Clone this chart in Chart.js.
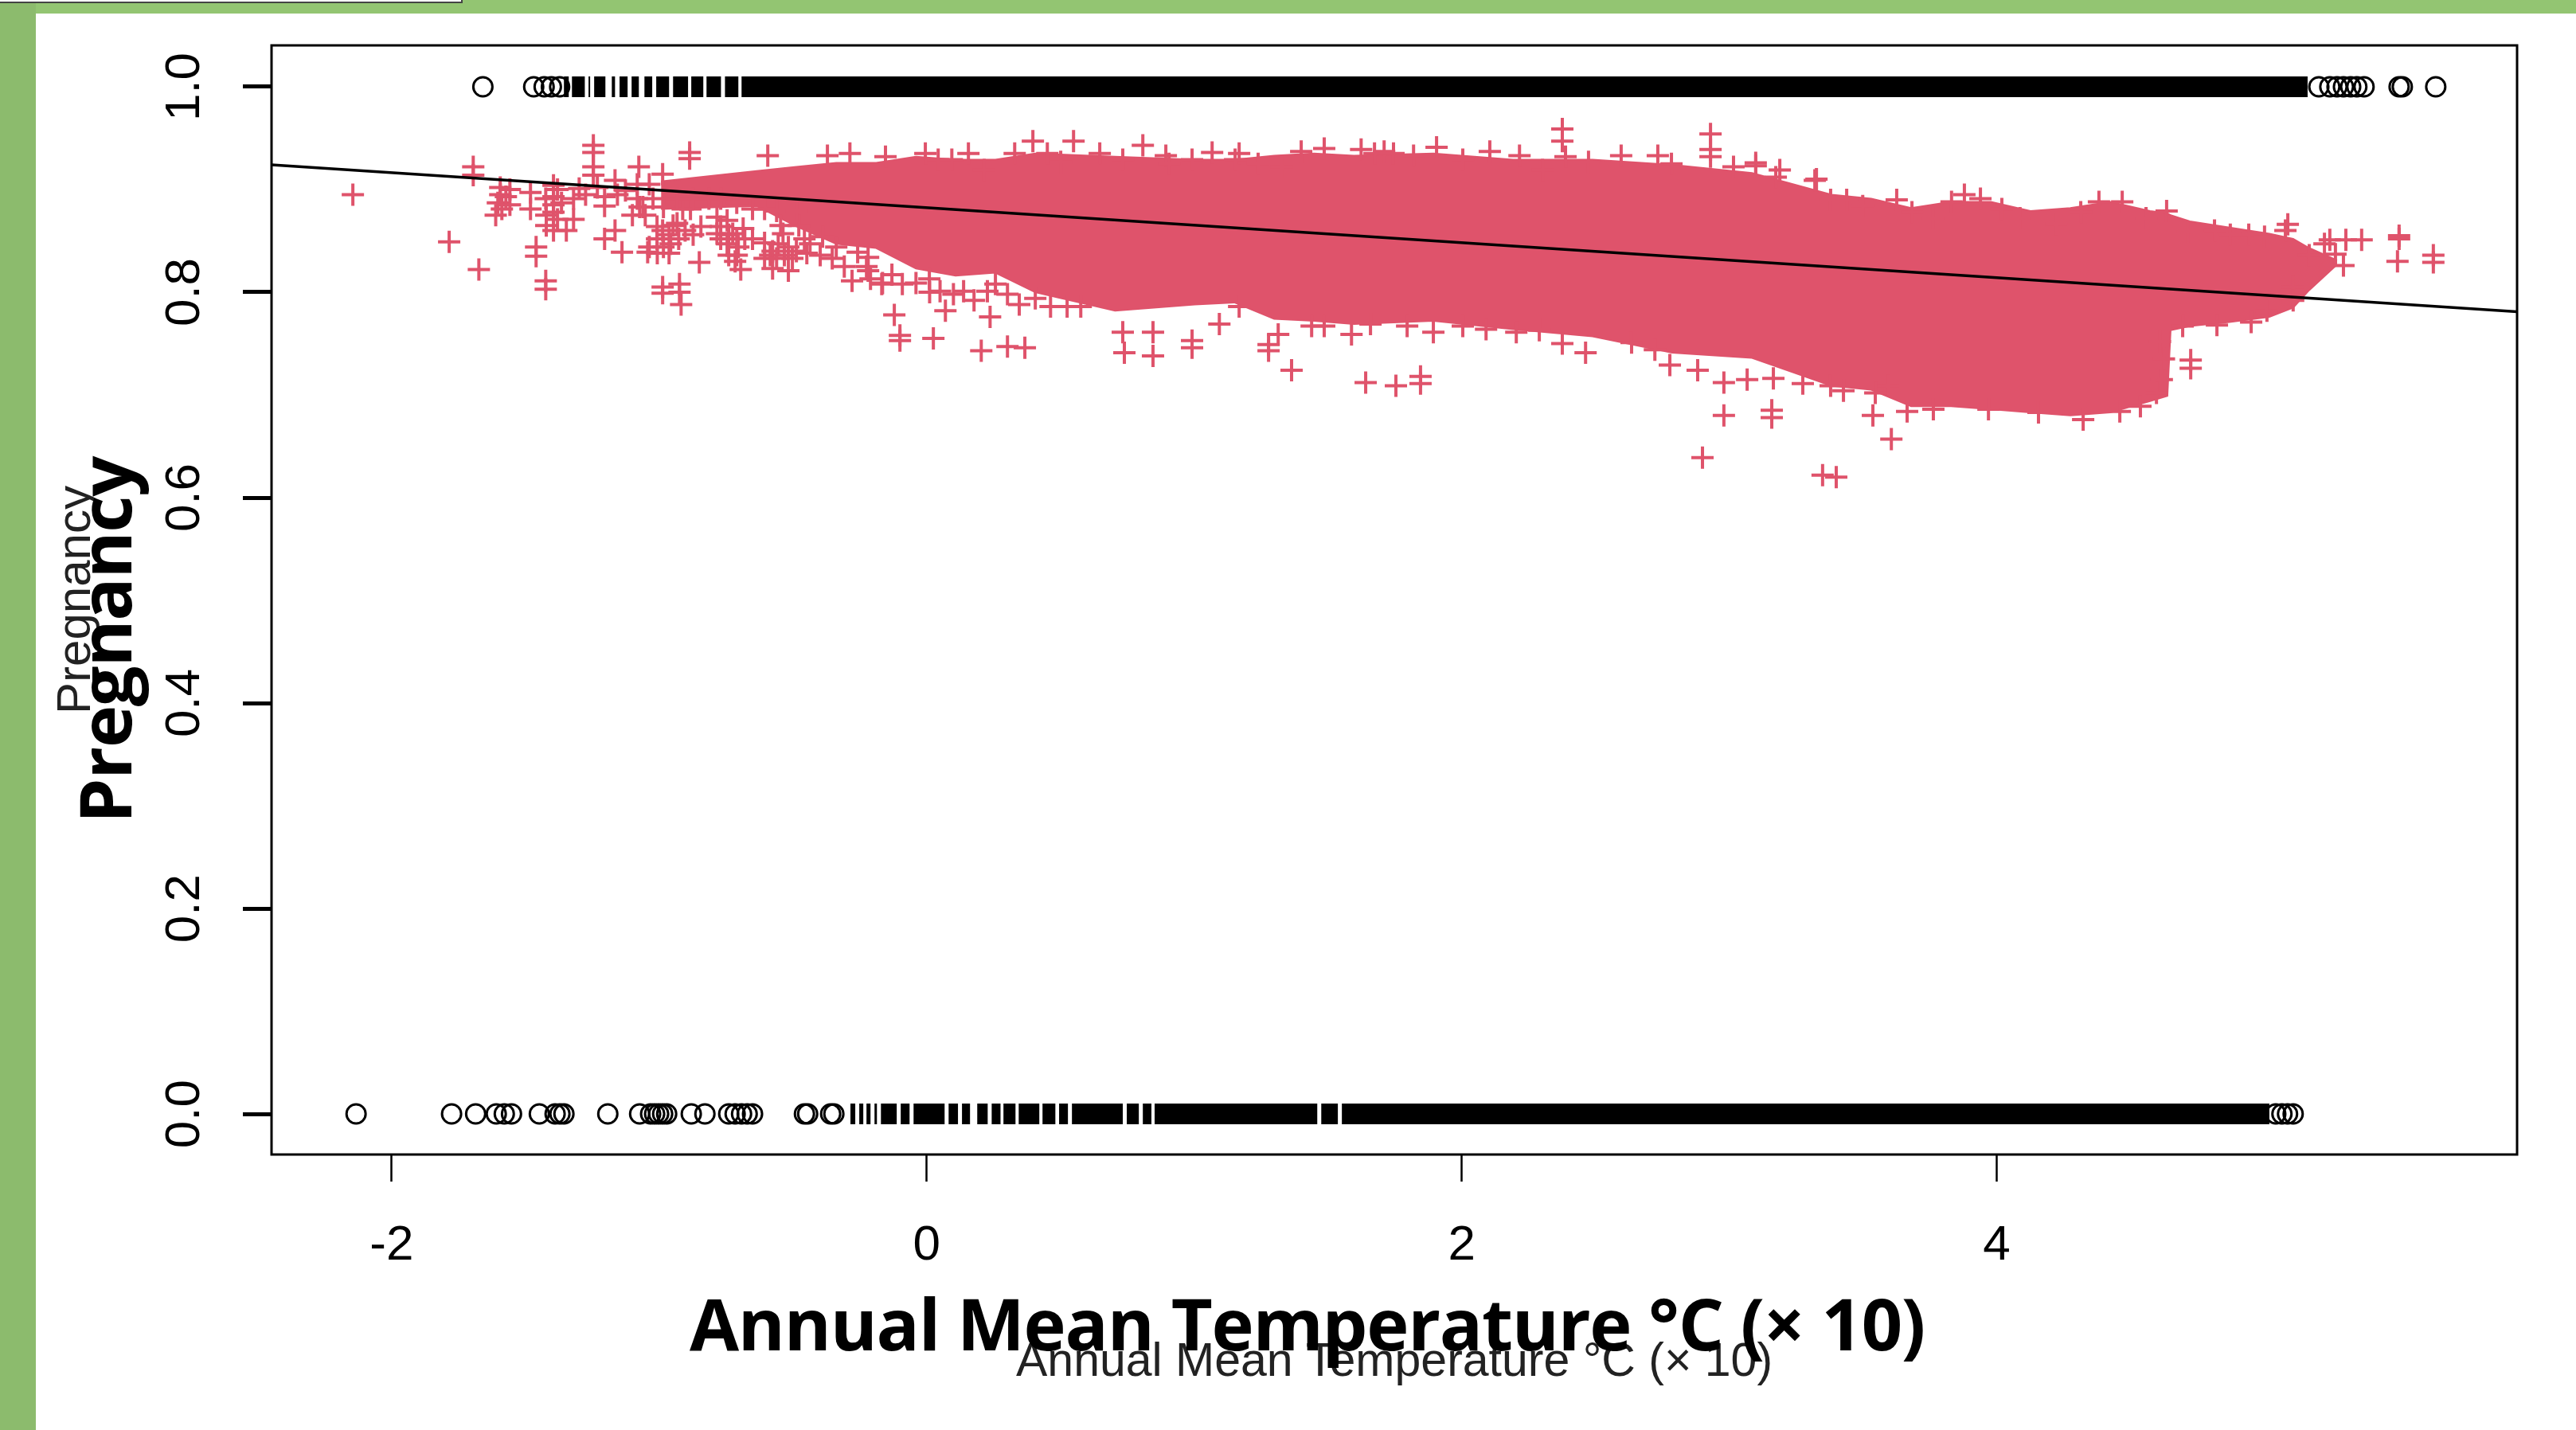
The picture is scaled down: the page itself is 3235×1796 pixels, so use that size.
<!DOCTYPE html>
<html>
<head>
<meta charset="utf-8">
<title>Pregnancy vs temperature</title>
<script src="https://cdn.jsdelivr.net/npm/chart.js@4"></script>
<style>
  html, body { margin: 0; padding: 0; background: #fff; }
  #page { position: relative; width: 3235px; height: 1796px; overflow: hidden; background: #fff; }
  #plot { position: absolute; left: 0; top: 0; }
  #barTop { position: absolute; left: 0; top: 0; width: 3235px; height: 17px; background: #93c572; }
  #barLeft { position: absolute; left: 0; top: 0; width: 45px; height: 1796px; background: #8cbb6d; }
  #tab { position: absolute; left: 0; top: 0; width: 579px; height: 2px; background: #fff; border-right: 2px solid #444; border-bottom: 2px solid #444; }
  .bold { position: absolute; font-family: "Open Sans", sans-serif; font-weight: 700; color: #000; white-space: nowrap; line-height: 1; letter-spacing: -1.25px; }
  #boldX { left: 866px; top: 1616px; font-size: 90px; }
  #boldY { left: 0; top: 0; font-size: 90px; transform-origin: 0 0; transform: translate(85px, 1034px) rotate(-90deg); }
</style>
</head>
<body>
<div id="page">
  <canvas id="plot" width="3235" height="1796"></canvas>
  <div id="barTop"></div>
  <div id="barLeft"></div>
  <div id="tab"></div>
  <div class="bold" id="boldX">Annual Mean Temperature °C (× 10)</div>
  <div class="bold" id="boldY">Pregnancy</div>
</div>
<script>
// axes
const xTicks = [-2, 0, 2, 4];
const yTicks = [0, 0.2, 0.4, 0.6, 0.8, 1];
const xTitle = "Annual Mean Temperature °C (× 10)";
const yTitle = "Pregnancy";

// fitted line, end to end of the plot box
const trendX = [-2.449, 5.945];
const trendY = [0.924, 0.781];

// open circles at 1.0 (sparse ends of the strip)
const onesX = [-1.659, -1.469, -1.430, -1.403, -1.372, 5.204, 5.245, 5.272, 5.296, 5.323, 5.346, 5.373, 5.504, 5.516, 5.641];
// solid runs of overlapped circles at 1.0
const onesRunStart = [-1.356, -1.326, -1.264, -1.243, -1.177, -1.148, -1.103, -1.055, -1.011, -0.948, -0.880, -0.823, -0.754, -0.692];
const onesRunEnd = [-1.338, -1.278, -1.258, -1.201, -1.165, -1.118, -1.076, -1.026, -0.963, -0.892, -0.835, -0.769, -0.704, 5.162];

// open circles at 0.0
const zerosX = [-2.133, -1.776, -1.686, -1.609, -1.579, -1.552, -1.448, -1.389, -1.371, -1.356, -1.192, -1.073, -1.032, -1.017, -1.002, -0.987, -0.972, -0.880, -0.829, -0.740, -0.716, -0.692, -0.671, -0.651, -0.457, -0.445, -0.359, -0.347, 5.043, 5.066, 5.087, 5.108];
// solid runs at 0.0
const zerosRunStart = [-0.285, -0.252, -0.225, -0.195, -0.171, -0.097, -0.049, 0.082, 0.132, 0.189, 0.243, 0.287, 0.344, 0.433, 0.495, 0.543, 0.748, 0.808, 0.852, 1.475, 1.552];
const zerosRunEnd = [-0.267, -0.237, -0.210, -0.186, -0.112, -0.064, 0.067, 0.117, 0.162, 0.228, 0.276, 0.332, 0.421, 0.481, 0.528, 0.733, 0.793, 0.840, 1.460, 1.537, 5.019];

// solid core of the + cloud, outline
const cloudX = [-0.993, -0.636, -0.487, -0.338, -0.189, -0.040, 0.108, 0.257, 0.406, 0.704, 1.002, 1.150, 1.299, 1.448, 1.597, 1.894, 2.192, 2.489, 2.787, 3.085, 3.382, 3.531, 3.680, 3.829, 3.978, 4.126, 4.275, 4.424, 4.573, 4.638, 4.650, 4.722, 4.870, 5.019, 5.108, 5.168, 5.272];
const cloudTop = [0.908, 0.918, 0.922, 0.926, 0.926, 0.932, 0.929, 0.929, 0.935, 0.932, 0.929, 0.929, 0.933, 0.935, 0.933, 0.935, 0.929, 0.929, 0.924, 0.916, 0.895, 0.891, 0.882, 0.888, 0.888, 0.879, 0.882, 0.888, 0.879, 0.877, 0.875, 0.869, 0.863, 0.857, 0.852, 0.843, 0.831];
const cloudBottom = [0.881, 0.884, 0.864, 0.847, 0.843, 0.823, 0.816, 0.819, 0.800, 0.782, 0.788, 0.790, 0.774, 0.772, 0.769, 0.772, 0.764, 0.757, 0.741, 0.736, 0.709, 0.705, 0.689, 0.689, 0.686, 0.683, 0.680, 0.683, 0.694, 0.699, 0.763, 0.767, 0.771, 0.776, 0.785, 0.802, 0.827];

// single + marks around and outside the core
const plusX = [-2.145, -1.785, -1.674, -1.695, -1.695, -1.594, -1.594, -1.603, -1.588, -1.611, -1.481, -1.481, -1.395, -1.395, -1.395, -1.395, -1.422, -1.422, -1.320, -1.347, -1.460, -1.460, -1.424, -1.424, -1.246, -1.246, -1.246, -1.246, -1.299, -1.204, -1.204, -1.165, -1.076, -1.100, -1.073, -1.165, -1.204, -1.139, -0.984, -1.007, -1.043, -0.957, -0.987, -0.924, -0.924, -0.918, -0.987, -0.850, -0.886, -0.886, -0.987, -0.987, -0.903, -0.948, -0.725, -0.784, -0.686, -0.704, -0.746, -0.695, -0.716, -0.585, -0.555, -0.517, -0.576, -0.517, -0.537, -0.448, -0.436, -0.984, -1.061, -1.052, -0.883, -0.912, -0.746, -0.784, -0.546, -0.478, -0.594, -0.371, -0.287, -0.154, -0.279, -0.225, -0.168, -0.091, -0.210, 0.011, 0.070, 0.237, -0.121, -0.100, -0.100, 0.025, 0.204, 0.302, 0.367, 0.100, 0.177, 0.346, 0.010, 0.257, -0.389, -0.338, -0.258, -0.219, 0.733, 0.739, 0.846, 0.846, 0.992, 1.094, 0.992, 1.278, 1.278, 1.314, 1.364, 1.641, 1.754, 1.846, 1.846, 1.588, 1.894, 2.004, 2.376, 2.463, 2.204, 2.778, 2.882, 2.980, 3.067, 3.165, 3.275, 2.980, 3.159, 3.159, 2.900, 3.349, 3.400, 3.606, 3.537, 3.665, 3.379, 3.427, 3.596, 3.546, 3.763, 3.969, 4.156, 4.323, 4.460, 4.537, 4.597, 4.725, 4.725, 4.695, 4.823, 4.951, 5.010, 5.108, 5.108, 3.099, 3.174, 3.320, 3.626, 3.939, 3.879, 4.382, 4.469, 4.635, 5.088, 5.079, 5.245, 5.305, 5.364, 5.266, 5.296, 5.504, 5.504, 5.498, 5.632, 5.632, 2.376, 2.376, 2.930, 2.930, 0.397, 0.549, 0.808, 1.067, 1.400, 1.486, 1.624, 1.710, 1.906, 2.105, 2.216, 2.388, 2.596, 2.733, 2.930, 3.189, 3.326, -0.005, 0.156, 0.329, 1.168, 0.647, 0.894,
    0.043, 0.094, 0.215, 0.451, 0.501, 0.733, 0.906, 0.992, 1.153, 1.239, 1.326, 1.674, 1.745, 1.820, 2.004, 2.302, 2.474, 2.784, 3.016, 3.099, 3.379, 3.439, 3.499, 3.683, 3.763, 3.831, 4.019, 4.087, 4.165, 4.224, 4.314, 4.558, 4.715, 4.814, 4.873, 4.942, 5.001, 5.168, 5.225,
    -0.165, 0.463, 0.576, 1.168, 1.439, 1.486, 1.659, 1.796, 2.091, 2.290, 2.635, 2.722,
    -1.008, -0.963, -0.933, -0.873, -0.844, -1.037, -0.963, -1.008, -0.927, -0.770, -0.740, -0.710, -0.680, -0.770, -0.710, -0.651, -0.740, -0.606, -0.576, -0.532, -0.502, -0.561, -0.606, -0.487, -1.082, -1.023, -0.933, -0.873, -0.814, -0.770, -0.710, -0.651, -0.606, -0.561, -0.487,
    -1.558, -1.573, -1.558, -1.380, -1.365, -1.424, -1.320, -1.275, -1.231, -1.156, -1.126, -1.082, -1.037, -1.380, -1.395,
    -0.457, -0.398, -0.353, -0.308, -0.219, -0.130, -0.040, 0.050, 0.138, 0.227, 0.302, 0.406, 0.525,
    4.617, 4.625, 4.610];
const plusY = [0.895, 0.849, 0.822, 0.922, 0.914, 0.902, 0.895, 0.887, 0.881, 0.875, 0.897, 0.881, 0.904, 0.893, 0.885, 0.878, 0.875, 0.865, 0.871, 0.860, 0.844, 0.835, 0.811, 0.803, 0.943, 0.936, 0.922, 0.914, 0.901, 0.893, 0.884, 0.909, 0.922, 0.875, 0.883, 0.860, 0.852, 0.839, 0.844, 0.838, 0.839, 0.847, 0.805, 0.808, 0.800, 0.788, 0.799, 0.829, 0.936, 0.930, 0.915, 0.860, 0.860, 0.865, 0.857, 0.857, 0.862, 0.844, 0.847, 0.822, 0.830, 0.836, 0.847, 0.844, 0.823, 0.821, 0.857, 0.838, 0.847, 0.883, 0.883, 0.875, 0.881, 0.881, 0.870, 0.873, 0.865, 0.865, 0.933, 0.933, 0.935, 0.932, 0.811, 0.825, 0.808, 0.808, 0.813, 0.800, 0.782, 0.776, 0.778, 0.758, 0.753, 0.755, 0.743, 0.747, 0.746, 0.798, 0.792, 0.788, 0.813, 0.808, 0.854, 0.844, 0.839, 0.834, 0.761, 0.741, 0.761, 0.738, 0.753, 0.769, 0.746, 0.749, 0.743, 0.759, 0.724, 0.712, 0.709, 0.718, 0.711, 0.759, 0.761, 0.767, 0.750, 0.741, 0.761, 0.729, 0.724, 0.712, 0.715, 0.716, 0.711, 0.680, 0.685, 0.678, 0.639, 0.622, 0.620, 0.657, 0.680, 0.684, 0.709, 0.704, 0.709, 0.702, 0.686, 0.686, 0.683, 0.676, 0.684, 0.689, 0.702, 0.734, 0.726, 0.767, 0.768, 0.771, 0.782, 0.805, 0.792, 0.926, 0.912, 0.909, 0.890, 0.891, 0.895, 0.888, 0.888, 0.879, 0.866, 0.860, 0.851, 0.851, 0.851, 0.837, 0.826, 0.852, 0.855, 0.830, 0.836, 0.829, 0.959, 0.947, 0.954, 0.939, 0.947, 0.947, 0.943, 0.936, 0.937, 0.940, 0.939, 0.937, 0.941, 0.937, 0.933, 0.932, 0.933, 0.933, 0.932, 0.919, 0.910, 0.935, 0.935, 0.935, 0.935, 0.935, 0.933,
    0.929, 0.929, 0.919, 0.935, 0.927, 0.929, 0.925, 0.929, 0.929, 0.925, 0.922, 0.935, 0.935, 0.933, 0.929, 0.919, 0.927, 0.925, 0.922, 0.923, 0.890, 0.890, 0.884, 0.878, 0.872, 0.888, 0.881, 0.872, 0.869, 0.866, 0.878, 0.872, 0.859, 0.860, 0.856, 0.856, 0.854, 0.836, 0.847,
    0.809, 0.786, 0.786, 0.786, 0.767, 0.767, 0.769, 0.767, 0.764, 0.763, 0.751, 0.744,
    0.864, 0.856, 0.867, 0.856, 0.864, 0.844, 0.838, 0.852, 0.852, 0.864, 0.856, 0.852, 0.852, 0.852, 0.836, 0.852, 0.836, 0.848, 0.840, 0.836, 0.833, 0.833, 0.833, 0.840, 0.891, 0.891, 0.891, 0.891, 0.891, 0.891, 0.887, 0.881, 0.881, 0.879, 0.879,
    0.900, 0.893, 0.885, 0.900, 0.887, 0.891, 0.891, 0.895, 0.902, 0.895, 0.899, 0.905, 0.905, 0.871, 0.860,
    0.852, 0.836, 0.833, 0.825, 0.821, 0.817, 0.809, 0.801, 0.801, 0.801, 0.798, 0.794, 0.786,
    0.715, 0.735, 0.752];

const RED = "#DF536B";

function xyPoints(xs, ys) {
    return xs.map((x, i) => ({ x: x, y: ys[i] }));
}

// runs joined with a null point in between so the line breaks
function runPoints(starts, ends, level) {
    const pts = [];
    starts.forEach((s, i) => {
        pts.push({ x: s, y: level }, { x: ends[i], y: level }, { x: ends[i], y: null });
    });
    return pts;
}

function ringSet(xs, level) {
    return {
        data: xs.map((x) => ({ x: x, y: level })),
        pointStyle: "circle",
        pointRadius: 12,
        pointBorderWidth: 3,
        pointBorderColor: "#000",
        pointBackgroundColor: "rgba(0,0,0,0)",
    };
}

function runSet(starts, ends, level) {
    return {
        data: runPoints(starts, ends, level),
        showLine: true,
        spanGaps: false,
        borderColor: "#000",
        borderWidth: 26,
        borderCapStyle: "butt",
        pointRadius: 0,
    };
}

// frame around the plot area, the axes only give two sides
const plotFrame = {
    id: "plotFrame",
    afterDraw(chart) {
        const { ctx, chartArea: a } = chart;
        ctx.save();
        ctx.strokeStyle = "#000";
        ctx.lineWidth = 3;
        ctx.strokeRect(a.left, a.top, a.right - a.left, a.bottom - a.top);
        ctx.restore();
    },
};

new Chart(document.getElementById("plot").getContext("2d"), {
    type: "scatter",
    data: {
        datasets: [
            {
                data: xyPoints(trendX, trendY),
                showLine: true,
                borderColor: "#000",
                borderWidth: 3.5,
                pointRadius: 0,
            },
            {
                data: xyPoints(plusX, plusY),
                pointStyle: "cross",
                pointRadius: 14,
                pointBorderWidth: 4,
                pointBorderColor: RED,
            },
            {
                data: xyPoints(cloudX, cloudTop),
                showLine: true,
                fill: "+1",
                borderColor: RED,
                borderWidth: 2,
                backgroundColor: RED,
                pointRadius: 0,
                tension: 0,
            },
            {
                data: xyPoints(cloudX, cloudBottom),
                showLine: true,
                borderColor: RED,
                borderWidth: 2,
                pointRadius: 0,
                tension: 0,
            },
            runSet(onesRunStart, onesRunEnd, 1),
            runSet(zerosRunStart, zerosRunEnd, 0),
            ringSet(onesX, 1),
            ringSet(zerosX, 0),
        ],
    },
    options: {
        responsive: false,
        animation: false,
        events: [],
        layout: { padding: { left: 0, top: 57, right: 74, bottom: 0 } },
        plugins: {
            legend: { display: false },
            tooltip: { enabled: false },
        },
        scales: {
            x: {
                type: "linear",
                min: -2.449,
                max: 5.945,
                afterFit(axis) {
                    axis.height = 346;
                    axis.paddingLeft = 0;
                    axis.paddingRight = 0;
                },
                afterBuildTicks(axis) { axis.ticks = xTicks.map((v) => ({ value: v })); },
                grid: { drawOnChartArea: false, tickLength: 34, tickWidth: 2.5, tickColor: "#000" },
                border: { display: false },
                ticks: {
                    autoSkip: false,
                    maxRotation: 0,
                    padding: 44,
                    color: "#000",
                    font: { family: "Liberation Sans", size: 62 },
                    callback: (v) => String(v),
                },
                title: {
                    display: true,
                    text: xTitle,
                    color: "#222",
                    font: { family: "Liberation Sans", size: 59 },
                    padding: { top: 0, bottom: 49 },
                },
            },
            y: {
                min: -0.0395,
                max: 1.0403,
                afterFit(axis) {
                    axis.width = 341;
                    axis.paddingTop = 0;
                    axis.paddingBottom = 0;
                },
                afterBuildTicks(axis) { axis.ticks = yTicks.map((v) => ({ value: v })); },
                grid: { drawOnChartArea: false, tickLength: 36, tickWidth: 5, tickColor: "#000" },
                border: { display: false },
                ticks: {
                    autoSkip: false,
                    minRotation: 90,
                    maxRotation: 90,
                    crossAlign: "center",
                    padding: 29,
                    color: "#000",
                    font: { family: "Liberation Sans", size: 62 },
                    callback: (v) => v.toFixed(1),
                },
                title: {
                    display: true,
                    text: yTitle,
                    color: "#222",
                    font: { family: "Liberation Sans", size: 60 },
                    padding: { top: 60, bottom: 0 },
                },
            },
        },
    },
    plugins: [plotFrame],
});
</script>
</body>
</html>
